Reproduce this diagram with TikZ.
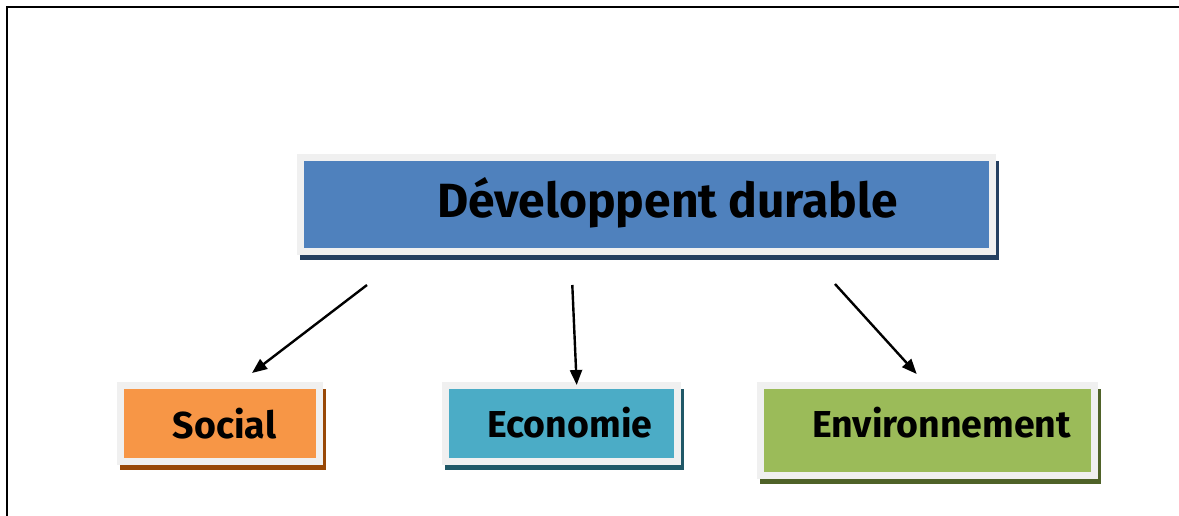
\documentclass[tikz,border=0pt]{standalone}
\usepackage{fontspec}
\setmainfont{Fira Sans}
\usetikzlibrary{arrows.meta,calc}
\pgfdeclarelayer{background}
\pgfsetlayers{background,main}
\definecolor{framegray}{HTML}{F0F0F0}
\definecolor{mainfill}{HTML}{4F81BD}
\definecolor{mainshadow}{HTML}{243F60}
\definecolor{socfill}{HTML}{F79646}
\definecolor{socshadow}{HTML}{984807}
\definecolor{ecofill}{HTML}{4BACC6}
\definecolor{ecoshadow}{HTML}{205867}
\definecolor{envfill}{HTML}{9BBB59}
\definecolor{envshadow}{HTML}{4F6228}
\tikzset{
  box/.style={draw=framegray, line width=7pt, inner sep=0pt, outer sep=3.5pt},
  biglbl/.style={anchor=base, inner sep=0pt, font=\bfseries\fontsize{48}{48}\selectfont},
  smalllbl/.style={anchor=base, inner sep=0pt, font=\bfseries\fontsize{37.5}{37.5}\selectfont},
  conn/.style={line width=2.4pt, -{Triangle[length=15pt,width=12pt]}},
  framecol/.style={line width=2.5pt, black}
}
\begin{document}
\begin{tikzpicture}[x=1pt,y=-1pt]
\useasboundingbox (0,0) rectangle (1179,516);
\draw[framecol] (7,516) -- (7,7) -- (1179,7);
% boxes
\node[box, fill=mainfill, minimum width=692pt, minimum height=94pt] (main) at (646.5,204.5) {};
\node[box, fill=socfill, minimum width=199pt, minimum height=76pt] (soc) at (220,423.5) {};
\node[box, fill=ecofill, minimum width=232pt, minimum height=76pt] (eco) at (561.5,423.5) {};
\node[box, fill=envfill, minimum width=334pt, minimum height=90pt] (env) at (927.5,430.5) {};
\begin{pgfonlayer}{background}
\foreach \n/\c in {main/mainshadow, soc/socshadow, eco/ecoshadow, env/envshadow}{
  \fill[\c] ($(\n.north west)+(3,7)$) rectangle ($(\n.south east)+(3,5)$);
}
\end{pgfonlayer}
% labels
\node[biglbl] (tmain) at (667.5,218) {Développent durable};
\node[smalllbl] (tsoc) at (224.5,438) {Social};
\node[smalllbl] (teco) at (570,437) {Economie};
\node[smalllbl] (tenv) at (941.5,437) {Environnement};
% connectors
\coordinate (s1) at (367,285);
\coordinate (e1) at (252,373);
\coordinate (s2) at (572.3,285);
\coordinate (e2) at (576.7,385);
\coordinate (s3) at (835,284);
\coordinate (e3) at (916.7,374);
\draw[conn] (s1) -- (e1);
\draw[conn] (s2) -- (e2);
\draw[conn] (s3) -- (e3);
\end{tikzpicture}
\end{document}
